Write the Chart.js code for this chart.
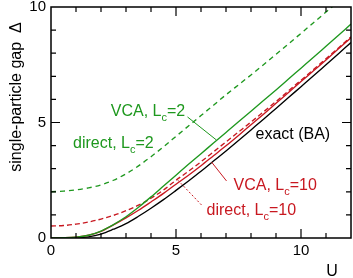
<!DOCTYPE html>
<html><head><meta charset="utf-8">
<script src="https://cdn.jsdelivr.net/npm/chart.js@4/dist/chart.umd.min.js"></script>
<style>html,body{margin:0;padding:0;background:#fff;overflow:hidden}</style>
</head><body>
<canvas id="c" width="353" height="278"></canvas>
<script>
// ---- data ----
const U = [0,0.5,1,1.5,2,2.5,3,3.5,4,4.5,5,5.5,6,6.5,7,7.5,8,8.5,9,9.5,10,10.5,11,11.5,12];
const exactBA   = [0,0.00,0.01,0.05,0.17,0.38,0.62,0.94,1.29,1.66,2.06,2.47,2.89,3.33,3.77,4.22,4.68,5.14,5.61,6.08,6.55,7.02,7.50,7.98,8.46];
const vcaL10    = [0,0.01,0.04,0.12,0.29,0.57,0.87,1.20,1.56,1.93,2.33,2.72,3.13,3.56,3.99,4.44,4.90,5.36,5.83,6.30,6.77,7.24,7.71,8.19,8.67];
const directL10 = [0.52,0.54,0.60,0.69,0.82,0.98,1.18,1.42,1.72,2.08,2.50,2.89,3.30,3.73,4.16,4.59,5.02,5.46,5.91,6.37,6.83,7.29,7.76,8.23,8.71];
const vcaL2     = [0,0.01,0.04,0.12,0.30,0.58,0.92,1.33,1.78,2.25,2.72,3.19,3.65,4.11,4.57,5.03,5.49,5.95,6.41,6.88,7.35,7.82,8.30,8.78,9.26];
const directL2  = [2.00,2.03,2.08,2.17,2.30,2.50,2.78,3.12,3.52,3.95,4.40,4.85,5.30,5.75,6.20,6.63,7.06,7.50,7.95,8.40,8.86,9.32,9.78,10.24,10.70];
const xTickLabels = [0,5,10];
const yTickLabels = [0,5,10];
const xTitle = 'U';
const yTitle = 'single-particle gap  Δ';

const GREEN = '#1e981e', RED = '#c81820', BLACK = '#000';
const FONT = '"Liberation Sans", Arial, Helvetica, sans-serif';

const pts = arr => U.map((u,i)=>({x:u,y:arr[i]}));
const ds = (label, arr, color, dash) => ({
  label, data: pts(arr), borderColor: color, borderWidth: 1.35,
  borderDash: dash || [], pointRadius: 0, fill: false,
  cubicInterpolationMode: 'monotone', showLine: true
});

// label annotations in data coordinates
const labels = [
  {parts:['VCA, L','c','=2'], u:2.39, v:5.29, color:GREEN},
  {parts:['direct, L','c','=2'], u:0.88, v:3.91, color:GREEN},
  {parts:['exact (BA)'], u:8.18, v:4.27, color:BLACK},
  {parts:['VCA, L','c','=10'], u:7.30, v:2.08, color:RED},
  {parts:['direct, L','c','=10'], u:6.22, v:1.00, color:RED}
];
const pointers = [
  {from:[5.46,5.24], to:[6.62,4.24], color:GREEN, dash:[]},
  {from:[7.02,2.47], to:[6.42,3.29], color:RED, dash:[]},
  {from:[6.02,1.43], to:[5.07,2.51], color:RED, dash:[2,2]}
];

const frame = {
  id: 'frame',
  afterDraw(chart) {
    const {ctx, chartArea: a, scales: {x, y}} = chart;
    ctx.save();
    ctx.strokeStyle = '#000';
    ctx.lineWidth = 1.5;
    ctx.strokeRect(a.left, a.top, a.right - a.left, a.bottom - a.top);
    ctx.lineWidth = 1.2;
    ctx.beginPath();
    for (let v = 1; v < 12; v++) {
      const px = x.getPixelForValue(v), L = v % 5 === 0 ? 9 : 5;
      ctx.moveTo(px, a.bottom); ctx.lineTo(px, a.bottom - L);
      ctx.moveTo(px, a.top); ctx.lineTo(px, a.top + L);
    }
    for (let v = 1; v < 10; v++) {
      const py = y.getPixelForValue(v), L = v % 5 === 0 ? 9 : 5;
      ctx.moveTo(a.left, py); ctx.lineTo(a.left + L, py);
      ctx.moveTo(a.right, py); ctx.lineTo(a.right - L, py);
    }
    ctx.stroke();
    ctx.lineWidth = 1;
    for (const p of pointers) {
      ctx.strokeStyle = p.color;
      ctx.setLineDash(p.dash);
      ctx.beginPath();
      ctx.moveTo(x.getPixelForValue(p.from[0]), y.getPixelForValue(p.from[1]));
      ctx.lineTo(x.getPixelForValue(p.to[0]), y.getPixelForValue(p.to[1]));
      ctx.stroke();
    }
    ctx.setLineDash([]);
    ctx.textBaseline = 'alphabetic';
    ctx.textAlign = 'left';
    for (const l of labels) {
      let px = x.getPixelForValue(l.u);
      const py = y.getPixelForValue(l.v);
      ctx.fillStyle = l.color;
      l.parts.forEach((t, i) => {
        const sub = (i === 1);
        ctx.font = (sub ? '11px ' : '16px ') + FONT;
        ctx.fillText(t, px, py + (sub ? 5 : 0));
        px += ctx.measureText(t).width;
      });
    }
    ctx.fillStyle = '#000';
    ctx.font = '16px ' + FONT;
    ctx.textAlign = 'center';
    ctx.textBaseline = 'alphabetic';
    ctx.fillText(xTitle, 332, 276);
    ctx.translate(17, 97);
    ctx.rotate(-Math.PI / 2);
    ctx.textBaseline = 'middle';
    ctx.fillText(yTitle, 0, 0);
    ctx.restore();
  }
};

new Chart(document.getElementById('c'), {
  type: 'scatter',
  data: {
    datasets: [
      ds('direct, Lc=2', directL2, GREEN, [5, 4]),
      ds('VCA, Lc=2', vcaL2, GREEN),
      ds('direct, Lc=10', directL10, RED, [5, 3]),
      ds('VCA, Lc=10', vcaL10, RED),
      ds('exact (BA)', exactBA, BLACK)
    ]
  },
  options: {
    responsive: false,
    animation: false,
    devicePixelRatio: 1,
    layout: {padding: {top: 7, right: 2, left: 0, bottom: 0}},
    plugins: {legend: {display: false}, tooltip: {enabled: false}},
    scales: {
      x: {
        type: 'linear', min: 0, max: 12,
        grid: {display: false, drawTicks: false},
        border: {display: false},
        ticks: {color: '#000', font: {size: 15, family: FONT}, padding: 4, maxRotation: 0},
        afterBuildTicks: s => { s.ticks = xTickLabels.map(v => ({value: v})); },
        afterFit: s => { s.height = 40; s.paddingLeft = 0; s.paddingRight = 0; }
      },
      y: {
        type: 'linear', min: 0, max: 10,
        grid: {display: false, drawTicks: false},
        border: {display: false},
        ticks: {color: '#000', font: {size: 15, family: FONT}, padding: 5},
        afterBuildTicks: s => { s.ticks = yTickLabels.map(v => ({value: v})); },
        afterFit: s => { s.width = 51; s.paddingTop = 0; s.paddingBottom = 0; }
      }
    }
  },
  plugins: [frame]
});
</script>
</body></html>
